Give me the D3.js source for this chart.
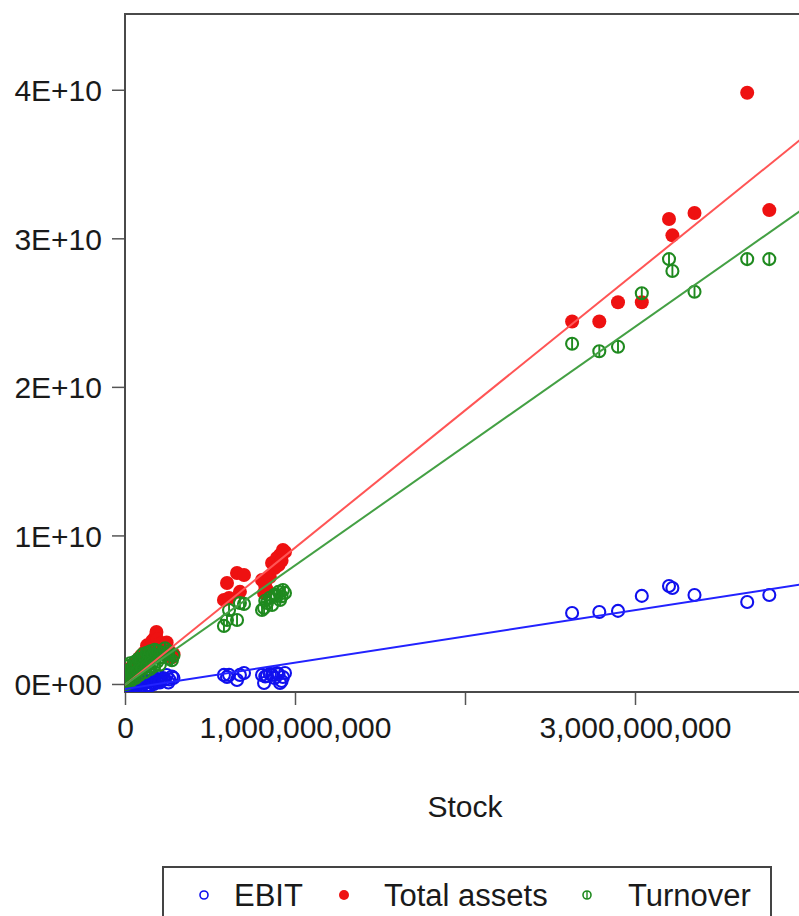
<!DOCTYPE html>
<html>
<head>
<meta charset="utf-8">
<script src="https://cdn.jsdelivr.net/npm/d3@7"></script>
<style>
  body { margin: 0; background: #fff; }
  text { font-family: "Liberation Sans", Arial, sans-serif; fill: #1a1a1a; }
</style>
</head>
<body>
<script>
const stock = [
    0.005e9, 0.012e9, 0.018e9, 0.024e9, 0.030e9, 0.036e9, 0.042e9, 0.050e9, 0.058e9, 0.065e9,
    0.072e9, 0.080e9, 0.088e9, 0.095e9, 0.105e9, 0.112e9, 0.120e9, 0.128e9, 0.135e9, 0.142e9,
    0.150e9, 0.158e9, 0.165e9, 0.175e9, 0.185e9, 0.195e9, 0.210e9, 0.225e9, 0.245e9, 0.260e9, 0.276e9,
    0.008e9, 0.015e9, 0.022e9, 0.028e9, 0.040e9, 0.048e9, 0.062e9, 0.075e9, 0.085e9, 0.100e9,
    0.118e9, 0.130e9, 0.148e9, 0.160e9, 0.170e9, 0.190e9, 0.205e9, 0.235e9, 0.255e9, 0.285e9,
    0.582e9, 0.600e9, 0.612e9, 0.659e9, 0.676e9, 0.700e9, 0.806e9, 0.818e9, 0.835e9, 0.865e9,
    0.894e9, 0.912e9, 0.929e9, 0.941e9, 0.825e9, 0.852e9, 0.880e9, 0.903e9, 0.921e9,
    2.63e9, 2.79e9, 2.90e9, 3.04e9, 3.20e9, 3.22e9, 3.35e9, 3.66e9, 3.79e9
];
const ebit = [
    -0.02e10, 0.00e10, -0.03e10, 0.01e10, -0.01e10, 0.02e10, -0.02e10, 0.01e10, 0.03e10, -0.01e10,
    0.02e10, 0.00e10, 0.04e10, -0.02e10, 0.03e10, 0.01e10, 0.05e10, 0.02e10, -0.01e10, 0.04e10,
    0.02e10, 0.06e10, 0.01e10, 0.04e10, 0.03e10, 0.05e10, 0.02e10, 0.04e10, 0.06e10, 0.03e10, 0.05e10,
    -0.03e10, -0.01e10, -0.03e10, 0.00e10, -0.02e10, 0.02e10, -0.03e10, 0.01e10, -0.02e10, 0.00e10,
    -0.02e10, 0.01e10, -0.01e10, 0.03e10, 0.00e10, 0.02e10, 0.01e10, 0.03e10, 0.01e10, 0.04e10,
    0.061e10, 0.047e10, 0.061e10, 0.027e10, 0.061e10, 0.074e10, 0.061e10, 0.007e10, 0.054e10, 0.061e10,
    0.074e10, 0.007e10, 0.047e10, 0.074e10, 0.050e10, 0.068e10, 0.040e10, 0.065e10, 0.020e10,
    0.478e10, 0.485e10, 0.492e10, 0.593e10, 0.660e10, 0.646e10, 0.599e10, 0.552e10, 0.599e10
];
const totalAssets = [
    0.02e10, 0.06e10, 0.04e10, 0.09e10, 0.07e10, 0.11e10, 0.08e10, 0.13e10, 0.10e10, 0.15e10,
    0.12e10, 0.17e10, 0.14e10, 0.19e10, 0.16e10, 0.21e10, 0.18e10, 0.23e10, 0.20e10, 0.24e10,
    0.22e10, 0.26e10, 0.21e10, 0.31e10, 0.35e10, 0.25e10, 0.22e10, 0.24e10, 0.28e10, 0.22e10, 0.18e10,
    0.01e10, 0.03e10, 0.05e10, 0.04e10, 0.06e10, 0.09e10, 0.11e10, 0.14e10, 0.12e10, 0.17e10,
    0.15e10, 0.26e10, 0.20e10, 0.29e10, 0.23e10, 0.30e10, 0.27e10, 0.26e10, 0.21e10, 0.20e10,
    0.566e10, 0.680e10, 0.579e10, 0.747e10, 0.620e10, 0.734e10, 0.700e10, 0.613e10, 0.633e10, 0.815e10,
    0.848e10, 0.869e10, 0.902e10, 0.889e10, 0.660e10, 0.720e10, 0.780e10, 0.800e10, 0.830e10,
    2.44e10, 2.44e10, 2.57e10, 2.57e10, 3.13e10, 3.02e10, 3.17e10, 3.98e10, 3.19e10
];
const turnover = [
    0.05e10, 0.09e10, 0.12e10, 0.07e10, 0.14e10, 0.10e10, 0.05e10, 0.12e10, 0.15e10, 0.08e10,
    0.13e10, 0.17e10, 0.11e10, 0.16e10, 0.20e10, 0.13e10, 0.18e10, 0.21e10, 0.15e10, 0.19e10,
    0.22e10, 0.17e10, 0.20e10, 0.23e10, 0.19e10, 0.22e10, 0.18e10, 0.21e10, 0.20e10, 0.17e10, 0.16e10,
    0.00e10, 0.02e10, 0.04e10, 0.01e10, 0.03e10, 0.07e10, 0.04e10, 0.09e10, 0.06e10, 0.10e10,
    0.08e10, 0.12e10, 0.10e10, 0.14e10, 0.12e10, 0.15e10, 0.13e10, 0.24e10, 0.22e10, 0.19e10,
    0.391e10, 0.431e10, 0.498e10, 0.431e10, 0.545e10, 0.539e10, 0.498e10, 0.512e10, 0.545e10, 0.532e10,
    0.593e10, 0.566e10, 0.633e10, 0.613e10, 0.560e10, 0.580e10, 0.600e10, 0.620e10, 0.590e10,
    2.29e10, 2.24e10, 2.27e10, 2.63e10, 2.86e10, 2.78e10, 2.64e10, 2.86e10, 2.86e10
];

// fitted lines (intercept, slope) as drawn in the picture
const fitIntercept = [-3.4e8, -7e7, -5e7];
const fitSlope = [1.77, 9.24, 8.03];

const seriesNames = ["EBIT", "Total assets", "Turnover"];
const xTicks = [0, 1e9, 2e9, 3e9, 4e9];
const xTickLabels = ["0", "1,000,000,000", "", "3,000,000,000", ""];
const yTicks = [0, 1e10, 2e10, 3e10, 4e10];
const yTickLabels = ["0E+00", "1E+10", "2E+10", "3E+10", "4E+10"];

const W = 799, H = 916;
const plotLeft = 125, plotTop = 14, plotRight = 805, plotBottom = 692;
const colors = ["#1010ee", "#ee1111", "#1f8a1f"];
const lineColors = ["#2222ff", "#ff5555", "#44a044"];

const svg = d3.select("body").append("svg")
    .attr("width", W)
    .attr("height", H);

const x = d3.scaleLinear().domain([0, 4e9]).range([plotLeft, plotRight]);
const y = d3.scaleLinear().domain([-0.054e10, 4.51e10]).range([plotBottom, plotTop]);

svg.append("defs").append("clipPath").attr("id", "plot")
    .append("rect")
    .attr("x", plotLeft).attr("y", plotTop)
    .attr("width", plotRight - plotLeft).attr("height", plotBottom - plotTop);

// axes
const xAxis = svg.append("g")
    .attr("transform", `translate(0,${plotBottom})`)
    .call(d3.axisBottom(x).tickValues(xTicks).tickSize(13).tickPadding(12)
        .tickFormat((d, i) => xTickLabels[i]));
const yAxis = svg.append("g")
    .attr("transform", `translate(${plotLeft},0)`)
    .call(d3.axisLeft(y).tickValues(yTicks).tickSize(13).tickPadding(10)
        .tickFormat((d, i) => yTickLabels[i]));
[xAxis, yAxis].forEach(g => {
    g.select(".domain").remove();
    g.selectAll(".tick line").attr("stroke", "#555").attr("stroke-width", 1.5);
    g.selectAll("text").style("font-size", "30px").attr("fill", "#1a1a1a")
        .style("font-family", '"Liberation Sans", Arial, sans-serif');
});
yAxis.selectAll("text").attr("dy", "0.36em");

// frame
svg.append("path")
    .attr("d", `M${plotRight},${plotTop}H${plotLeft}V${plotBottom}H${plotRight}`)
    .attr("fill", "none")
    .attr("stroke", "#4a4a4a")
    .attr("stroke-width", 2);

const plot = svg.append("g").attr("clip-path", "url(#plot)");
const rows = stock.map((s, i) => ({ s: s, v: [ebit[i], totalAssets[i], turnover[i]] }));

function marker(g, k, cx, cy, r, sw) {
    if (k === 1) {
        g.append("circle").attr("cx", cx).attr("cy", cy).attr("r", r + 1)
            .attr("fill", colors[k]);
    } else {
        g.append("circle").attr("cx", cx).attr("cy", cy).attr("r", r)
            .attr("fill", "none").attr("stroke", colors[k]).attr("stroke-width", sw);
        if (k === 2) {
            g.append("line")
                .attr("x1", cx).attr("x2", cx)
                .attr("y1", cy - r).attr("y2", cy + r)
                .attr("stroke", colors[k]).attr("stroke-width", sw - 0.2);
        }
    }
}

[0, 1, 2].forEach(k => {
    const g = plot.append("g");
    rows.forEach(d => marker(g, k, x(d.s), y(d.v[k]), 6, 2.1));
});

// regression lines
[0, 1, 2].forEach(k => {
    const xs = [0, 4e9];
    plot.append("line")
        .attr("x1", x(xs[0])).attr("y1", y(fitIntercept[k] + fitSlope[k] * xs[0]))
        .attr("x2", x(xs[1])).attr("y2", y(fitIntercept[k] + fitSlope[k] * xs[1]))
        .attr("stroke", lineColors[k])
        .attr("stroke-width", 2);
});

// axis title
svg.append("text")
    .attr("x", 465).attr("y", 817)
    .attr("text-anchor", "middle")
    .style("font-size", "30px")
    .text("Stock");

// legend
svg.append("rect")
    .attr("x", 163).attr("y", 867)
    .attr("width", 608).attr("height", 80)
    .attr("fill", "#fff")
    .attr("stroke", "#444")
    .attr("stroke-width", 2);

const legendMarkX = [204, 344, 587];
const legendTextX = [234, 384, 628];
seriesNames.forEach((name, k) => {
    const lg = svg.append("g");
    marker(lg, k, legendMarkX[k], 895, 4, 1.6);
    lg.append("text")
        .attr("x", legendTextX[k]).attr("y", 906)
        .style("font-size", "31px")
        .text(name);
});
</script>
</body>
</html>
